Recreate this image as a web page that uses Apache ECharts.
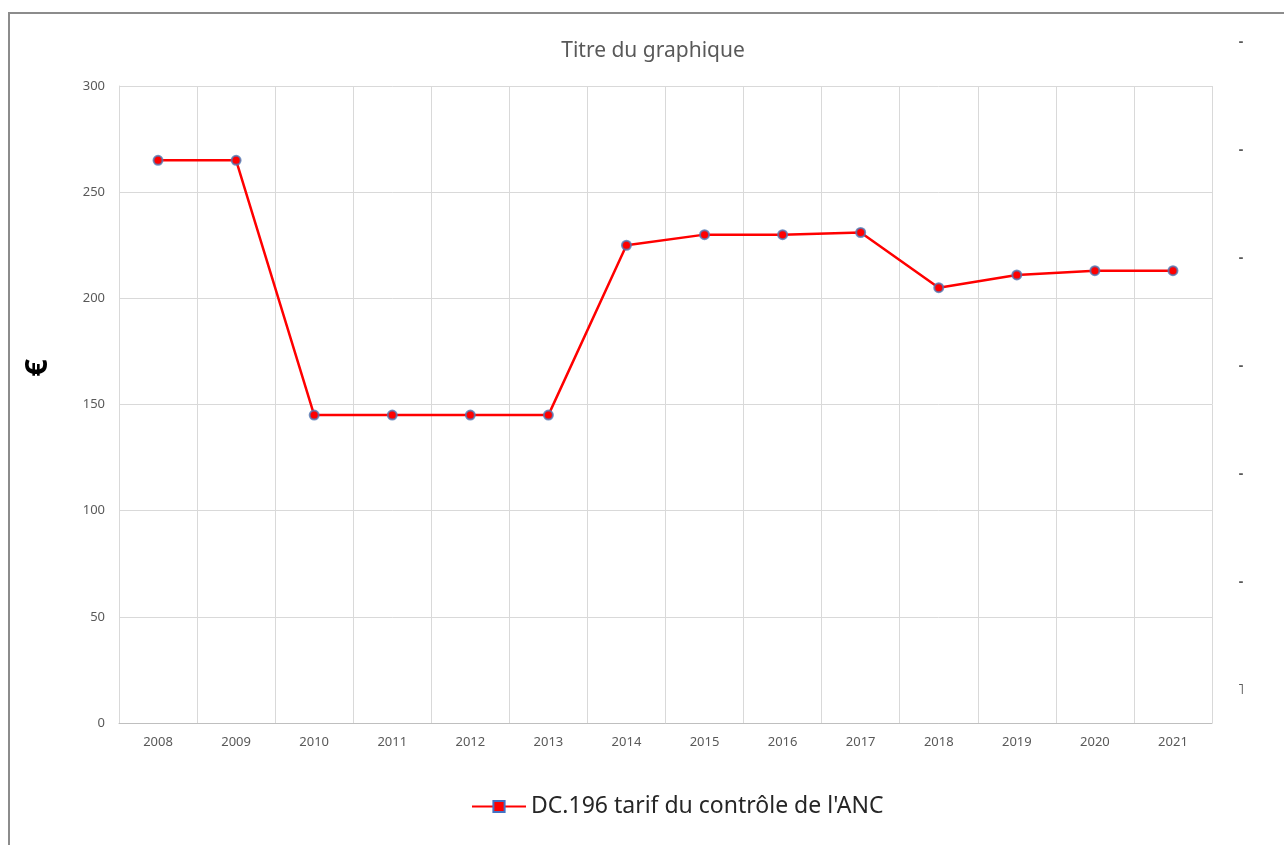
<!DOCTYPE html>
<html>
<head>
<meta charset="utf-8">
<script src="https://cdn.jsdelivr.net/npm/echarts@6/dist/echarts.min.js"></script>
<style>
  html, body { margin: 0; padding: 0; background: #fff; }
  #chart_con { width: 1284px; height: 845px; }
</style>
</head>
<body>
<div id="chart_con"></div>
<script>
    // données
    var years = ['2008', '2009', '2010', '2011', '2012', '2013', '2014', '2015', '2016', '2017', '2018', '2019', '2020', '2021'];
    var tarifs = [265, 265, 145, 145, 145, 145, 225, 230, 230, 231, 205, 211, 213, 213];
    var seriesName = "DC.196 tarif du contrôle de l'ANC";
    var rightMarks = [0, 1, 2, 3, 4, 5, 6];

    var font = 'Noto Sans';
    var chart = echarts.init(document.getElementById('chart_con'));
    var option = {
        animation: false,
        graphic: [{
            type: 'rect',
            shape: { x: 9, y: 13, width: 1300, height: 860 },
            style: { fill: 'none', stroke: '#8c8c8c', lineWidth: 2 },
            silent: true
        }, {
            // titre de l'axe Y (décalé vers le haut comme sur l'original)
            type: 'text',
            x: 38,
            y: 368,
            rotation: Math.PI / 2,
            style: {
                text: '€',
                fill: '#000',
                font: 'bold 31px "Noto Sans"',
                align: 'center',
                verticalAlign: 'middle'
            },
            silent: true
        }],
        title: {
            text: 'Titre du graphique',
            left: 648,
            top: 36,
            textAlign: 'center',
            textStyle: { color: '#595959', fontSize: 21, fontWeight: 'normal', fontFamily: font }
        },
        legend: {
            data: [seriesName],
            left: 466,
            top: 790,
            itemWidth: 54,
            itemHeight: 14,
            itemGap: 6,
            textStyle: { color: '#262626', fontSize: 23, fontFamily: font }
        },
        grid: [
            { left: 119, right: 72, top: 86, bottom: 122 },
            { left: 1241, width: 10, top: 42, bottom: 155 }
        ],
        xAxis: [{
            type: 'category',
            data: years,
            boundaryGap: true,
            axisLine: { lineStyle: { color: '#bfbfbf' } },
            axisTick: { show: false },
            axisLabel: { color: '#595959', fontSize: 13, margin: 13, fontFamily: font },
            splitLine: { show: true, lineStyle: { color: '#d9d9d9' } }
        }, {
            gridIndex: 1,
            type: 'value',
            show: false
        }],
        yAxis: [{
            type: 'value',
            min: 0,
            max: 300,
            interval: 50,
            axisLine: { show: true, lineStyle: { color: '#d9d9d9' } },
            axisTick: { show: false },
            axisLabel: { color: '#595959', fontSize: 13, margin: 14, fontFamily: font },
            splitLine: { lineStyle: { color: '#d9d9d9' } }
        }, {
            gridIndex: 1,
            type: 'value',
            min: 0,
            max: 6,
            interval: 1,
            position: 'left',
            axisLine: { show: false },
            axisTick: { show: false },
            splitLine: { show: false },
            axisLabel: {
                color: '#595959',
                fontSize: 14,
                fontWeight: 'bold',
                margin: 0,
                align: 'center',
                fontFamily: font,
                formatter: function (v) { return v === rightMarks[0] ? '˥' : '-'; }
            }
        }],
        series: [{
            name: 'main',
            type: 'line',
            data: tarifs,
            symbol: 'circle',
            symbolSize: 9,
            lineStyle: { color: '#ff0000', width: 2.5 },
            itemStyle: { color: '#ff0000', borderColor: 'rgba(80,120,180,0.8)', borderWidth: 2 }
        }, {
            name: seriesName,
            type: 'line',
            data: [],
            symbol: 'rect',
            lineStyle: { color: '#ff0000', width: 2.5 },
            itemStyle: { color: '#ff0000', borderColor: '#4472c4', borderWidth: 2 }
        }]
    };
    chart.setOption(option);
</script>
</body>
</html>
